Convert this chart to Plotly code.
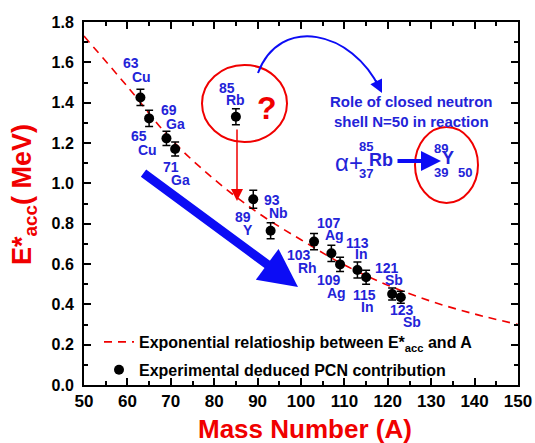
import plotly.graph_objects as go

# ---------------- data ----------------
isotope_mass = [63, 65, 69, 71, 85, 89, 93, 103, 107, 109, 113, 115, 121, 123]
isotope_symbol = ["Cu", "Cu", "Ga", "Ga", "Rb", "Y", "Nb", "Rh", "Ag", "Ag", "In", "In", "Sb", "Sb"]
e_acc = [1.426, 1.322, 1.223, 1.170, 1.330, 0.921, 0.765, 0.711, 0.653, 0.598, 0.570, 0.534, 0.451, 0.435]
e_err = [0.040, 0.040, 0.035, 0.035, 0.040, 0.045, 0.040, 0.040, 0.040, 0.035, 0.040, 0.035, 0.030, 0.030]

fit_mass = [50, 60, 70, 80, 90, 100, 110, 120, 130, 140, 150]
fit_eacc = [1.73, 1.48, 1.22, 1.02, 0.855, 0.72, 0.595, 0.495, 0.415, 0.352, 0.30]

x_ticks = [50, 60, 70, 80, 90, 100, 110, 120, 130, 140, 150]
y_ticks = [0.0, 0.2, 0.4, 0.6, 0.8, 1.0, 1.2, 1.4, 1.6, 1.8]

# ---------------- layout helpers ----------------
W, H = 535, 443
ML, MR, MT, MB = 84, 17, 22, 58
PW, PH = W - ML - MR, H - MT - MB
X0, X1, Y0, Y1 = 50, 150, 0.0, 1.8


def dx(px):
    return X0 + (px - ML) / PW * (X1 - X0)


def dy(py):
    return Y0 + (H - MB - py) / PH * (Y1 - Y0)


def paper_x(px):
    return (px - ML) / PW


def paper_y(py):
    return (H - MB - py) / PH


RED = "#f00000"
BLUE_T = "#2323d8"
BLUE_A = "#0c0cf5"
FONT = "Liberation Sans, Arial, sans-serif"

fig = go.Figure()

fig.add_trace(go.Scatter(
    x=fit_mass, y=fit_eacc, mode="lines", line_shape="spline",
    line=dict(color=RED, width=1.6, dash="8px,6px"),
    name="Exponential relatioship between E*<sub>acc</sub> and A",
    legendgroup="fit",
))
fig.add_trace(go.Scatter(
    x=isotope_mass, y=e_acc, mode="markers",
    marker=dict(color="black", size=10),
    error_y=dict(type="data", array=e_err, visible=True, color="black", thickness=1.5, width=4),
    name="Experimental deduced PCN contribution",
    legendgroup="exp",
))

ann = []
# isotope labels: (number offset, symbol offset) in screen px relative to point
label_offsets = [
    ((-9, -34), (1, -20)),
    ((-10, 18), (-2, 32)),
    ((3, -28), (9, -14)),
    ((-4, 18), (5, 31)),
    ((-9, -29), (0, -17)),
    ((-10, 18), (-5, 31)),
    ((1, -31), (8, -18)),
    ((-15, 13), (-7, 26)),
    ((-2, -30), (3, -18)),
    ((-11, 16), (-4, 29)),
    ((0, -27), (4, -16)),
    ((-2, 18), (1, 30)),
    ((-5, -26), (2, -14)),
    ((1, 13), (11, 25)),
]
for m, s, v, (no, so) in zip(isotope_mass, isotope_symbol, e_acc, label_offsets):
    ann.append(dict(x=m, y=v, text=str(m), showarrow=False, xshift=no[0], yshift=-no[1],
                    font=dict(family=FONT, size=14, color=BLUE_T, weight="bold")))
    ann.append(dict(x=m, y=v, text=s, showarrow=False, xshift=so[0], yshift=-so[1],
                    font=dict(family=FONT, size=14, color=BLUE_T, weight="bold")))

# question mark
ann.append(dict(x=dx(267), y=dy(108), text="?", showarrow=False,
                font=dict(family=FONT, size=32, color=RED, weight="bold")))
# red arrow down
ann.append(dict(x=dx(237), y=dy(201), ax=dx(237), ay=dy(128), axref="x", ayref="y",
                text="", showarrow=True, arrowhead=2, arrowsize=1.6, arrowwidth=1.5, arrowcolor=RED))
# big blue arrow
ann.append(dict(x=dx(298), y=dy(287), ax=dx(142), ay=dy(172), axref="x", ayref="y",
                text="", showarrow=True, arrowhead=2, arrowsize=0.85, arrowwidth=9, arrowcolor=BLUE_A))
# curved arrow head
ann.append(dict(x=dx(382), y=dy(93), ax=-7, ay=-14, text="", showarrow=True,
                arrowhead=2, arrowsize=1.3, arrowwidth=2, arrowcolor=BLUE_A))
# role text
ann.append(dict(x=dx(411), y=dy(111), text="Role of closed neutron<br>shell N=50 in reaction",
                showarrow=False, align="center",
                font=dict(family=FONT, size=15, color=BLUE_T, weight="bold")))
# reaction
ann.append(dict(x=dx(349), y=dy(162), text="\u03b1+", showarrow=False,
                font=dict(family=FONT, size=24, color=BLUE_T)))
ann.append(dict(x=dx(381), y=dy(160), text="Rb", showarrow=False,
                font=dict(family=FONT, size=18, color=BLUE_T, weight="bold")))
ann.append(dict(x=dx(366), y=dy(146), text="85", showarrow=False,
                font=dict(family=FONT, size=13, color=BLUE_T, weight="bold")))
ann.append(dict(x=dx(366), y=dy(173), text="37", showarrow=False,
                font=dict(family=FONT, size=13, color=BLUE_T, weight="bold")))
ann.append(dict(x=dx(441), y=dy(161), ax=dx(396), ay=dy(161), axref="x", ayref="y",
                text="", showarrow=True, arrowhead=2, arrowsize=1.0, arrowwidth=4, arrowcolor=BLUE_A))
ann.append(dict(x=dx(448), y=dy(158), text="Y", showarrow=False,
                font=dict(family=FONT, size=18, color=BLUE_T, weight="bold")))
ann.append(dict(x=dx(441), y=dy(148), text="89", showarrow=False,
                font=dict(family=FONT, size=13, color=BLUE_T, weight="bold")))
ann.append(dict(x=dx(441), y=dy(172), text="39", showarrow=False,
                font=dict(family=FONT, size=13, color=BLUE_T, weight="bold")))
ann.append(dict(x=dx(465), y=dy(172), text="50", showarrow=False,
                font=dict(family=FONT, size=13, color=BLUE_T, weight="bold")))
# axis titles
ann.append(dict(x=paper_x(5), y=paper_y(195), xref="paper", yref="paper",
                xanchor="left", yanchor="middle",
                text="E*<sub>acc</sub>( MeV)", textangle=-90, showarrow=False,
                font=dict(family=FONT, size=27, color=RED, weight="bold")))
ann.append(dict(x=paper_x(305), y=paper_y(446), xref="paper", yref="paper",
                xanchor="center", yanchor="bottom",
                text="Mass Number (A)", showarrow=False,
                font=dict(family=FONT, size=26, color=RED, weight="bold")))

shapes = [
    dict(type="circle", xref="x", yref="y", x0=dx(202), x1=dx(287), y0=dy(142), y1=dy(65),
         line=dict(color=RED, width=2)),
    dict(type="circle", xref="x", yref="y", x0=dx(415), x1=dx(478), y0=dy(203), y1=dy(127),
         line=dict(color=RED, width=2)),
]
# curved blue path (cubic bezier) in data coords
p = [(258, 73), (280, 15), (352, 30), (380, 89)]
path = "M {} {} C {} {}, {} {}, {} {}".format(
    dx(p[0][0]), dy(p[0][1]), dx(p[1][0]), dy(p[1][1]),
    dx(p[2][0]), dy(p[2][1]), dx(p[3][0]), dy(p[3][1]))
shapes.append(dict(type="path", xref="x", yref="y", path=path, line=dict(color=BLUE_A, width=2)))

axis_common = dict(
    showline=True, linecolor="black", linewidth=2, mirror="ticks",
    ticks="inside", ticklen=7, tickwidth=1.5, tickcolor="black",
    showgrid=False, zeroline=False, automargin=False,
)

fig.update_layout(
    width=W, height=H,
    margin=dict(l=ML, r=MR, t=MT, b=MB, autoexpand=False),
    paper_bgcolor="white", plot_bgcolor="white",
    showlegend=True,
    legend=dict(x=paper_x(99), y=paper_y(325), xanchor="left", yanchor="top",
                bgcolor="rgba(0,0,0,0)", traceorder="grouped", tracegroupgap=4,
                font=dict(family=FONT, size=16, color="black", weight="bold")),
    xaxis=dict(range=[X0, X1], tickvals=x_ticks, ticktext=[str(t) for t in x_ticks],
               tickfont=dict(family=FONT, size=17, color="black", weight="bold"),
               ticklabelstandoff=0,
               minor=dict(dtick=5, ticks="inside", ticklen=4, tickwidth=1.5, tickcolor="black"),
               **axis_common),
    yaxis=dict(range=[Y0, Y1], tickvals=y_ticks, ticktext=["{:.1f}".format(t) for t in y_ticks],
               tickfont=dict(family=FONT, size=16, color="black", weight="bold"),
               ticklabelstandoff=5,
               minor=dict(dtick=0.1, ticks="inside", ticklen=4, tickwidth=1.5, tickcolor="black"),
               **axis_common),
    annotations=ann,
    shapes=shapes,
)

fig.write_html("out.html", config={"displayModeBar": False},
               post_script="document.body.style.margin='0px';")
